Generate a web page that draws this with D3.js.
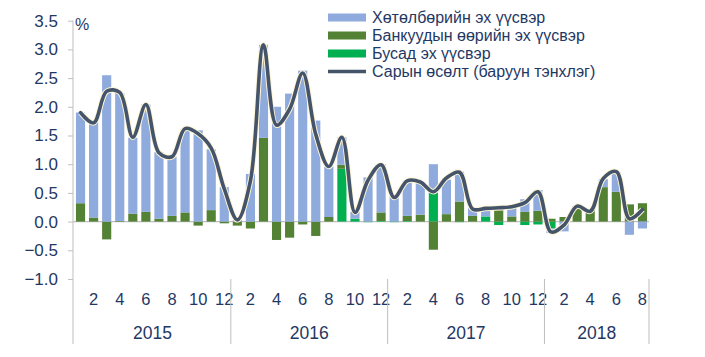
<!DOCTYPE html>
<html><head><meta charset="utf-8">
<script src="https://cdn.jsdelivr.net/npm/d3@7"></script>
<style>
body{margin:0;background:#fff}
svg{display:block;font-family:"Liberation Sans",Arial,sans-serif}
</style>
</head><body>
<svg id="chart" width="705" height="357"></svg>
<script>
const categories = [
  "2015-1","2015-2","2015-3","2015-4","2015-5","2015-6","2015-7","2015-8","2015-9","2015-10","2015-11","2015-12",
  "2016-1","2016-2","2016-3","2016-4","2016-5","2016-6","2016-7","2016-8","2016-9","2016-10","2016-11","2016-12",
  "2017-1","2017-2","2017-3","2017-4","2017-5","2017-6","2017-7","2017-8","2017-9","2017-10","2017-11","2017-12",
  "2018-1","2018-2","2018-3","2018-4","2018-5","2018-6","2018-7","2018-8"
];
const yearLabels = ["2015","2016","2017","2018"];
const yTicks = [3.5,3.0,2.5,2.0,1.5,1.0,0.5,0.0,-0.5,-1.0];
const seriesNames = ["Хөтөлбөрийн эх үүсвэр","Банкуудын өөрийн эх үүсвэр","Бусад эх үүсвэр","Сарын өсөлт (баруун тэнхлэг)"];

const programme = [
  1.58,1.66,2.55,2.23,1.32,1.87,1.16,1.03,1.45,1.59,1.06,0.60,
  0.03,0.83,1.62,2.00,2.23,2.63,1.76,0.88,0.48,0.12,0.77,0.84,
  0.44,0.61,0.55,0.50,0.60,0.52,0.14,0.13,0.04,0.17,0.22,0.36,
  -0.08,-0.17,0.00,0.00,0.14,0.34,-0.23,-0.12
];
const banks = [
  0.32,0.07,-0.31,0.01,0.14,0.17,0.05,0.10,0.16,-0.07,0.20,-0.03,
  -0.07,-0.12,1.46,-0.32,-0.28,-0.05,-0.25,0.08,0.07,0.00,0.00,0.15,
  0.00,0.09,0.12,-0.49,0.13,0.35,0.10,0.00,0.20,0.09,0.17,0.19,
  0.05,0.08,0.27,0.20,0.60,0.52,0.30,0.32
];
const other = [
  0,0,0,0,0,0,0,0,0,0,0,0,
  0,0,0,0,0,0,0,0,0.92,0.05,-0.01,0.01,
  -0.01,0.01,0,0.50,0,-0.01,0,0.09,-0.06,0,-0.06,-0.05,
  -0.12,0,0,0,0,0,0,0
];
const monthly = [
  1.90,1.72,2.27,2.25,1.47,2.04,1.20,1.13,1.62,1.53,1.28,0.57,
  0.03,0.71,3.08,1.68,1.96,2.59,1.52,0.96,1.47,0.16,0.72,0.99,
  0.42,0.71,0.69,0.52,0.76,0.86,0.22,0.23,0.24,0.26,0.33,0.52,
  -0.18,-0.06,0.27,0.18,0.75,0.87,0.05,0.21
];

const colors = {programme:"#8FAADC", banks:"#548235", other:"#00B050", line:"#44546A"};
const textColor = "#1F3864";
const axisColor = "#BFBFBF";

const svg = d3.select("#chart");
const x = d3.scaleBand().domain(categories).range([74, 649]).paddingInner(0.3).paddingOuter(0.15);
const y = d3.scaleLinear().domain([-1, 3.5]).range([279, 20.7]);

// y axis
const yAxis = d3.axisLeft(y).tickValues(yTicks).tickFormat(d3.format(".1f")).tickSize(5).tickPadding(10);
const gy = svg.append("g").attr("transform","translate(73,0)").call(yAxis);
gy.select(".domain").remove();
gy.selectAll(".tick line").attr("stroke", axisColor);
gy.selectAll(".tick text").attr("fill", textColor).style("font-size","17px").style("font-family","'Liberation Sans',Arial,sans-serif");
svg.append("line").attr("x1",73).attr("x2",73).attr("y1",y(3.5)).attr("y2",344).attr("stroke",axisColor);

// zero line
svg.append("line").attr("x1",73).attr("x2",649).attr("y1",y(0)).attr("y2",y(0)).attr("stroke",axisColor).attr("stroke-width",1.2);

// bars
const rows = categories.map((c,i)=>({cat:c, other:other[i], banks:banks[i], programme:programme[i]}));
const stack = d3.stack().keys(["other","banks","programme"]).offset(d3.stackOffsetDiverging);
const layers = stack(rows);
svg.append("g").selectAll("g").data(layers).join("g")
  .attr("fill", d=>colors[d.key])
  .selectAll("rect").data(d=>d).join("rect")
  .attr("x", d=>x(d.data.cat))
  .attr("width", x.bandwidth())
  .attr("y", d=>y(Math.max(d[0],d[1])))
  .attr("height", d=>Math.abs(y(d[0])-y(d[1])));

// line with halo
const lineGen = d3.line().x((d,i)=>x(categories[i])+x.bandwidth()/2).y(d=>y(d)).curve(d3.curveCatmullRom.alpha(0.5));
svg.append("path").datum(monthly).attr("d",lineGen).attr("fill","none").attr("stroke","#FFF4D6").attr("stroke-width",5.6).attr("stroke-linejoin","round");
svg.append("path").datum(monthly).attr("d",lineGen).attr("fill","none").attr("stroke",colors.line).attr("stroke-width",3.6).attr("stroke-linejoin","round").attr("stroke-linecap","round");

// x axis: months
const monthAxis = d3.axisBottom(x).tickValues(categories.filter(c=>(+c.split("-")[1])%2===0))
  .tickFormat(c=>c.split("-")[1]).tickSize(0).tickPadding(0);
const gx = svg.append("g").attr("transform","translate(0,293)").call(monthAxis);
gx.select(".domain").remove();
gx.selectAll(".tick text").attr("fill",textColor).style("font-size","16.5px").style("font-family","'Liberation Sans',Arial,sans-serif");

// year separators and labels
const yearStarts = yearLabels.map(yr=>categories.findIndex(c=>c.startsWith(yr)));
const step = x.step();
const x0 = 74;
const bounds = yearStarts.map(i=>x0 + i*step).concat([x0 + categories.length*step]);
bounds.slice(1).forEach(bx=>{
  svg.append("line").attr("x1",bx).attr("x2",bx).attr("y1",279).attr("y2",344).attr("stroke",axisColor);
});
yearLabels.forEach((yr,k)=>{
  svg.append("text").attr("x",(bounds[k]+bounds[k+1])/2).attr("y",339).attr("text-anchor","middle")
    .attr("fill",textColor).style("font-size","17.5px").text(yr);
});

// % label
svg.append("text").attr("x",75).attr("y",30).attr("fill",textColor).style("font-size","16px").text("%");

// legend
const lg = svg.append("g");
const legendItems = [
  {name:seriesNames[0], type:"rect", color:colors.programme},
  {name:seriesNames[1], type:"rect", color:colors.banks},
  {name:seriesNames[2], type:"rect", color:colors.other},
  {name:seriesNames[3], type:"line", color:colors.line}
];
legendItems.forEach((it,i)=>{
  const cy = 17.5 + i*18;
  if(it.type==="rect"){
    lg.append("rect").attr("x",328).attr("y",cy-4).attr("width",38).attr("height",8).attr("fill",it.color);
  } else {
    lg.append("line").attr("x1",328).attr("x2",366).attr("y1",cy).attr("y2",cy).attr("stroke",it.color).attr("stroke-width",3.5);
  }
  lg.append("text").attr("x",372).attr("y",cy+5.6).attr("fill",textColor).style("font-size","16px").text(it.name);
});
</script>
</body></html>
